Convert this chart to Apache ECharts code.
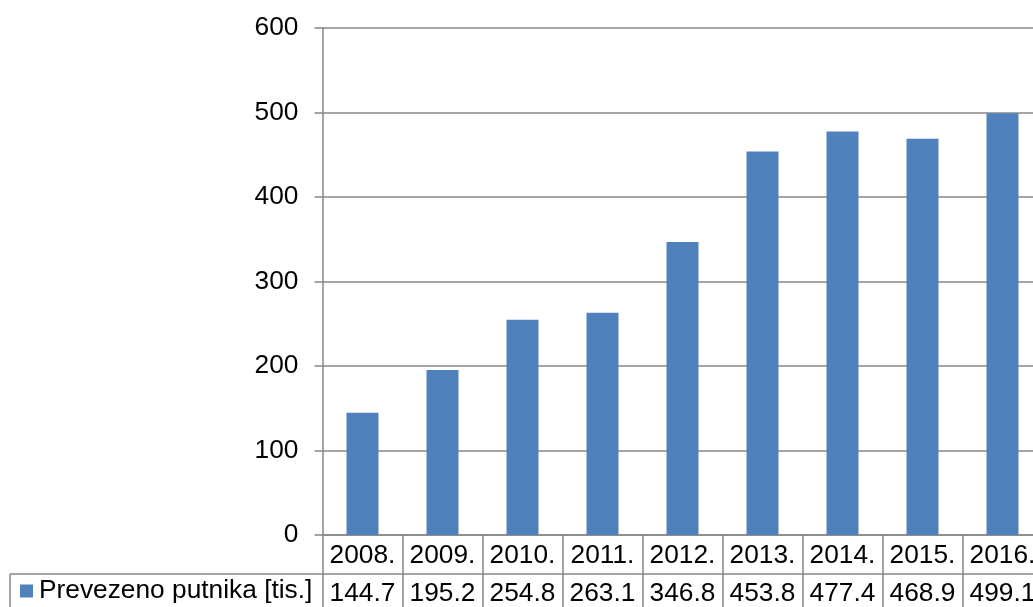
<!DOCTYPE html>
<html>
<head>
<meta charset="utf-8">
<script src="https://cdn.jsdelivr.net/npm/echarts@6/dist/echarts.min.js"></script>
<style>
  html, body { margin: 0; padding: 0; overflow: hidden; background: #fff; }
  #chart { width: 1043px; height: 607px; }
</style>
</head>
<body>
<div id="chart"></div>
<script>
// Passengers carried per year, in thousands
const years = ['2008.', '2009.', '2010.', '2011.', '2012.', '2013.', '2014.', '2015.', '2016.'];
const passengers = [144.7, 195.2, 254.8, 263.1, 346.8, 453.8, 477.4, 468.9, 499.1];
const seriesName = 'Prevezeno putnika [tis.]';
const yTicks = { min: 0, max: 600, step: 100 };

const FONT = '"Liberation Sans", Arial, sans-serif';
const FONT_SIZE = 26.3;
const GRID_COLOR = '#878787';
const BAR_COLOR = '#4f81bd';
const ROW_H = 39;          // height of each data-table row
const GRID = { left: 322.5, top: 28, width: 720, height: 507 };
const tableTop = GRID.top + GRID.height;      // first table row (years)
const secondRow = tableTop + ROW_H;           // second table row (values)

const chart = echarts.init(document.getElementById('chart'), null, { renderer: 'canvas' });

chart.setOption({
  animation: false,
  textStyle: { fontFamily: FONT },
  grid: { left: GRID.left, top: GRID.top, width: GRID.width, height: GRID.height, containLabel: false },
  legend: {
    data: [{ name: seriesName, icon: 'rect' }],
    left: 20, top: secondRow + 4,
    itemWidth: 13, itemHeight: 13, itemGap: 0,
    textStyle: { fontSize: FONT_SIZE, color: '#000', fontFamily: FONT, padding: [2, 0, 0, 1] },
    padding: 0,
    selectedMode: false
  },
  xAxis: [
    {
      type: 'category',
      data: years,
      position: 'bottom',
      boundaryGap: true,
      axisLine: { show: true, lineStyle: { color: GRID_COLOR, width: 1.5 } },
      axisTick: { show: true, alignWithLabel: false, length: ROW_H * 2 + 5, lineStyle: { color: GRID_COLOR, width: 1.5 } },
      axisLabel: { show: true, fontSize: FONT_SIZE, color: '#000', fontFamily: FONT, margin: 8, interval: 0 },
      splitLine: { show: false }
    },
    {
      type: 'category',
      data: years,
      position: 'bottom',
      offset: ROW_H,
      boundaryGap: true,
      axisLine: { show: true, lineStyle: { color: GRID_COLOR, width: 1.5 } },
      axisTick: { show: false },
      axisLabel: {
        show: true, fontSize: FONT_SIZE, color: '#000', fontFamily: FONT, margin: 6.5, interval: 0,
        formatter: (v, i) => passengers[i].toFixed(1)
      },
      splitLine: { show: false }
    }
  ],
  yAxis: {
    type: 'value',
    min: yTicks.min, max: yTicks.max, interval: yTicks.step,
    axisLine: { show: true, lineStyle: { color: GRID_COLOR, width: 1.5 } },
    axisTick: { show: true, length: 8, lineStyle: { color: GRID_COLOR, width: 1.5 } },
    axisLabel: { fontSize: FONT_SIZE, color: '#000', fontFamily: FONT, margin: 24 },
    splitLine: { show: true, lineStyle: { color: GRID_COLOR, width: 1.5 } }
  },
  series: [{
    name: seriesName,
    type: 'bar',
    xAxisIndex: 0,
    data: passengers,
    barWidth: '40%',
    itemStyle: { color: BAR_COLOR },
    emphasis: { disabled: true }
  }],
  // borders of the legend cell in the data table
  graphic: [
    {
      type: 'line', silent: true,
      shape: { x1: 10, y1: secondRow, x2: GRID.left, y2: secondRow },
      style: { stroke: GRID_COLOR, lineWidth: 1.5 }
    },
    {
      type: 'line', silent: true,
      shape: { x1: 10, y1: secondRow, x2: 10, y2: secondRow + ROW_H + 5 },
      style: { stroke: GRID_COLOR, lineWidth: 1.5 }
    }
  ]
});
</script>
</body>
</html>
